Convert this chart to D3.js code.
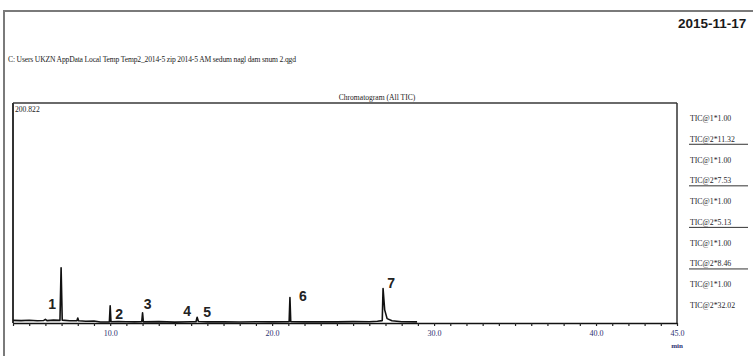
<!DOCTYPE html>
<html>
<head>
<meta charset="utf-8">
<script src="https://cdn.jsdelivr.net/npm/d3@7"></script>
<style>
  body { margin: 0; background: #fff; }
  svg { display: block; }
</style>
</head>
<body>
<svg id="chart"></svg>
<script>
const chartWidth = 753;
const chartHeight = 356;

// header texts
const reportDate = "2015-11-17";
const filePath = "C: Users UKZN AppData Local Temp Temp2_2014-5 zip 2014-5 AM sedum nagl dam snum 2.qgd";
const chartTitle = "Chromatogram (All TIC)";
const maxIntensityLabel = "200.822";

// axis
const timeDomain = [4.0, 45.0];
const intensityMax = 200.822;
const majorTicks = [10, 20, 30, 40, 45];
const majorTickLabels = ["10.0", "20.0", "30.0", "40.0", "45.0"];
const minorTicks = [4, 5, 6, 7, 8, 9, 10, 11, 12, 13, 14, 15, 16, 17, 18, 19, 20, 21, 22, 23, 24,
  25, 26, 27, 28, 29, 30, 31, 32, 33, 34, 35, 36, 37, 38, 39, 40, 41, 42, 43, 44, 45];

// TIC trace (min, intensity)
const traceTimes = [4.0, 4.5, 5.0, 5.5, 5.9, 6.0, 6.1, 6.5, 6.9, 6.97, 7.04, 7.5, 7.95, 8.0, 8.05,
  8.5, 9.0, 9.4, 9.95, 10.0, 10.05, 10.5, 11.0, 11.5, 11.95, 12.0, 12.05, 13.0, 14.0, 15.0, 15.3,
  15.37, 15.45, 16.0, 17.0, 18.0, 19.0, 20.0, 21.05, 21.1, 21.15, 22.0, 23.0, 24.0, 25.0, 26.0,
  26.5, 26.8, 26.85, 26.95, 27.1, 27.4, 28.0, 28.95];
const traceValues = [2.4, 2.2, 2.5, 2.0, 2.3, 3.4, 2.2, 2.6, 2.4, 50.4, 2.6, 2.0, 2.2, 4.5, 2.0,
  1.6, 1.8, 0.9, 0.9, 15.6, 1.2, 1.4, 1.2, 1.0, 1.1, 9.4, 1.0, 1.3, 0.8, 1.1, 1.2,
  5.2, 1.4, 1.0, 1.2, 0.9, 1.1, 1.0, 1.2, 23.2, 1.3, 1.0, 1.2, 1.0, 1.3, 1.1,
  1.6, 2.2, 31.5, 12.0, 4.0, 2.0, 1.2, 1.0];

// numbered peaks
const peakNames = ["1", "2", "3", "4", "5", "6", "7"];
const peakTimes = [6.97, 10.0, 12.0, 15.37, 15.37, 21.1, 26.85];
const peakValues = [50.4, 15.6, 9.4, 5.2, 5.2, 23.2, 31.5];

// right-hand trace list
const ticNames = ["TIC@1*1.00", "TIC@2*11.32", "TIC@1*1.00", "TIC@2*7.53", "TIC@1*1.00",
  "TIC@2*5.13", "TIC@1*1.00", "TIC@2*8.46", "TIC@1*1.00", "TIC@2*32.02"];

const plot = { left: 13, right: 677, top: 103, bottom: 323 };

const svg = d3.select("#chart")
  .attr("width", chartWidth)
  .attr("height", chartHeight)
  .style("font-family", "'Liberation Serif', 'DejaVu Serif', serif");

// outer report frame
svg.append("path")
  .attr("d", `M4,${chartHeight} V11 H${chartWidth}`)
  .attr("fill", "none")
  .attr("stroke", "#7a7a7a")
  .attr("stroke-width", 2);

svg.append("text")
  .attr("x", 678)
  .attr("y", 28)
  .style("font-family", "'Liberation Sans', Arial, sans-serif")
  .style("font-size", "13.5px")
  .style("font-weight", "bold")
  .attr("fill", "#1a1a1a")
  .text(reportDate);

svg.append("text")
  .attr("x", 8)
  .attr("y", 62)
  .style("font-size", "7.6px")
  .attr("fill", "#222")
  .attr("textLength", 288)
  .text(filePath);

svg.append("text")
  .attr("x", 377)
  .attr("y", 100)
  .attr("text-anchor", "middle")
  .style("font-size", "7.6px")
  .attr("fill", "#222")
  .text(chartTitle);

const x = d3.scaleLinear().domain(timeDomain).range([plot.left, plot.right]);
const y = d3.scaleLinear().domain([0, intensityMax]).range([plot.bottom, plot.top]);

// plot frame
svg.append("line")
  .attr("x1", plot.left).attr("x2", plot.right)
  .attr("y1", plot.top).attr("y2", plot.top)
  .attr("stroke", "#6a6a6a").attr("stroke-width", 2);
svg.append("line")
  .attr("x1", plot.right).attr("x2", plot.right)
  .attr("y1", plot.top).attr("y2", plot.bottom)
  .attr("stroke", "#333").attr("stroke-width", 1.5);
svg.append("line")
  .attr("x1", plot.left).attr("x2", plot.left)
  .attr("y1", plot.top).attr("y2", plot.bottom)
  .attr("stroke", "#333").attr("stroke-width", 2);

svg.append("text")
  .attr("x", plot.left + 2)
  .attr("y", plot.top + 9)
  .style("font-size", "7.6px")
  .attr("fill", "#222")
  .text(maxIntensityLabel);

// x axis: minor ticks every minute, labels on majors
const xAxis = d3.axisBottom(x)
  .tickValues(minorTicks)
  .tickSize(3)
  .tickSizeOuter(0)
  .tickFormat(d => {
    const i = majorTicks.indexOf(d);
    return i >= 0 ? majorTickLabels[i] : "";
  });

const gx = svg.append("g")
  .attr("transform", `translate(0,${plot.bottom})`)
  .call(xAxis);
gx.select(".domain").attr("stroke", "#111").attr("stroke-width", 1.6);
gx.selectAll(".tick line").attr("stroke", "#222").attr("stroke-width", 1.2);
gx.selectAll(".tick text")
  .attr("y", 7)
  .style("font-family", "'Liberation Serif', serif")
  .style("font-size", "8px")
  .attr("fill", "#2c3170");

svg.append("text")
  .attr("x", x(45))
  .attr("y", 348)
  .attr("text-anchor", "middle")
  .style("font-size", "7px")
  .style("font-weight", "bold")
  .attr("fill", "#2c3170")
  .text("min");

// trace
const trace = traceTimes.map((t, i) => ({ t, v: traceValues[i] }));
const line = d3.line().x(d => x(d.t)).y(d => y(d.v));

svg.append("path")
  .datum(trace)
  .attr("d", line)
  .attr("fill", "none")
  .attr("stroke", "#111")
  .attr("stroke-width", 1.6)
  .attr("stroke-linejoin", "round");

// peak numbers: offsets (px) from the peak apex to the label baseline
const labelOffsets = [[-9, 41], [9, 13], [5, -4], [-10, -1], [10, 0], [13, 3], [8, 0]];
svg.selectAll("text.peak")
  .data(peakNames)
  .enter()
  .append("text")
  .attr("class", "peak")
  .attr("x", (d, i) => x(peakTimes[i]) + labelOffsets[i][0])
  .attr("y", (d, i) => y(peakValues[i]) + labelOffsets[i][1])
  .attr("text-anchor", "middle")
  .style("font-family", "'Liberation Sans', Arial, sans-serif")
  .style("font-size", "14px")
  .style("font-weight", "bold")
  .attr("fill", "#222")
  .text(d => d);

// right-hand list
const rowY = d3.scalePoint().domain(d3.range(ticNames.length)).range([118, 305]);
const rows = svg.selectAll("g.tic")
  .data(ticNames)
  .enter()
  .append("g")
  .attr("class", "tic")
  .attr("transform", (d, i) => `translate(690,${rowY(i)})`);

rows.append("text")
  .attr("y", 3)
  .style("font-size", "7.8px")
  .attr("fill", "#1e1e2a")
  .text(d => d);

rows.filter((d, i) => i % 2 === 1 && i < ticNames.length - 1)
  .append("line")
  .attr("x1", -1).attr("x2", 58)
  .attr("y1", 5.5).attr("y2", 5.5)
  .attr("stroke", "#333")
  .attr("stroke-width", 1);
</script>
</body>
</html>
